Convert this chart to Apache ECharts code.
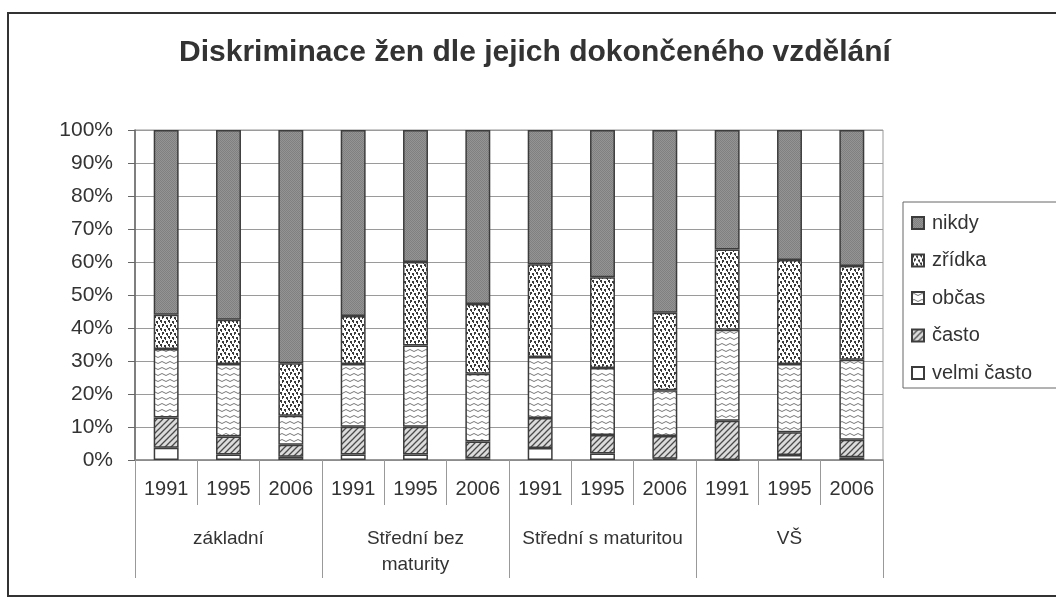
<!DOCTYPE html>
<html>
<head>
<meta charset="utf-8">
<script src="https://cdn.jsdelivr.net/npm/echarts@6/dist/echarts.min.js"></script>
<style>
  html, body { margin: 0; padding: 0; background: #fff; }
  #chart { width: 1056px; height: 599px; }
</style>
</head>
<body>
<div id="chart"></div>
<script>
// --- data ---
const years = ['1991', '1995', '2006', '1991', '1995', '2006', '1991', '1995', '2006', '1991', '1995', '2006'];
const groups = ['základní', 'Střední bez\nmaturity', 'Střední s maturitou', 'VŠ'];
const yTicks = [0, 10, 20, 30, 40, 50, 60, 70, 80, 90, 100];

const velmiCasto = [3.7, 1.7, 1.0, 1.7, 1.7, 0.5, 3.6, 2.0, 0.4, 0, 1.5, 0.8];
const casto = [9.2, 5.4, 3.6, 8.4, 8.4, 5.1, 9.1, 5.6, 6.9, 11.9, 6.9, 5.3];
const obcas = [20.7, 22.0, 8.8, 19.0, 24.6, 20.5, 18.5, 20.3, 13.8, 27.6, 20.7, 24.3];
const zridka = [10.4, 13.4, 15.9, 14.5, 25.3, 21.2, 28.1, 27.5, 23.5, 24.3, 31.5, 28.4];
const nikdy = [56.0, 57.5, 70.7, 56.4, 40.0, 52.7, 40.7, 44.6, 55.4, 36.2, 39.4, 41.2];

const TEXT = '#333';
const FONT = 'Liberation Sans, Arial, sans-serif';

// --- fill patterns (grayscale, like the scanned original) ---
function makePattern(w, h, draw) {
  const c = document.createElement('canvas');
  c.width = w; c.height = h;
  const ctx = c.getContext('2d');
  draw(ctx);
  return { image: c, repeat: 'repeat' };
}

const patNikdy = makePattern(2, 2, (ctx) => {
  ctx.fillStyle = '#949494'; ctx.fillRect(0, 0, 2, 2);
  ctx.fillStyle = '#808080'; ctx.fillRect(0, 0, 1, 1); ctx.fillRect(1, 1, 1, 1);
});

const patZridka = makePattern(8, 8, (ctx) => {
  ctx.fillStyle = '#fff'; ctx.fillRect(0, 0, 8, 8);
  ctx.fillStyle = '#3a3a3a';
  ctx.fillRect(0, 0, 2, 2); ctx.fillRect(1, 2, 1, 1);
  ctx.fillRect(4, 1, 2, 2); ctx.fillRect(5, 3, 1, 1);
  ctx.fillRect(2, 4, 2, 2); ctx.fillRect(2, 6, 1, 1);
  ctx.fillRect(6, 5, 2, 2); ctx.fillRect(7, 7, 1, 1);
});

const patObcas = makePattern(8, 6, (ctx) => {
  ctx.fillStyle = '#fff'; ctx.fillRect(0, 0, 8, 6);
  ctx.strokeStyle = '#777'; ctx.lineWidth = 1;
  ctx.beginPath();
  ctx.moveTo(0, 2.5); ctx.quadraticCurveTo(2, 0.5, 4, 2.5); ctx.quadraticCurveTo(6, 4.5, 8, 2.5);
  ctx.stroke();
});

const patCasto = makePattern(6, 6, (ctx) => {
  ctx.fillStyle = '#dcdcdc'; ctx.fillRect(0, 0, 6, 6);
  ctx.strokeStyle = '#4a4a4a'; ctx.lineWidth = 1.3;
  ctx.beginPath();
  ctx.moveTo(-1, 7); ctx.lineTo(7, -1);
  ctx.moveTo(-4, 4); ctx.lineTo(4, -4);
  ctx.moveTo(2, 10); ctx.lineTo(10, 2);
  ctx.stroke();
});

function barSeries(name, data, fill) {
  return {
    name: name,
    type: 'bar',
    stack: 'total',
    barWidth: '40%',
    data: data,
    itemStyle: { color: fill, borderColor: '#3c3c3c', borderWidth: 1.5 },
    emphasis: { disabled: true }
  };
}

const chart = echarts.init(document.getElementById('chart'));

chart.setOption({
  animation: false,
  backgroundColor: '#fff',
  title: {
    text: 'Diskriminace žen dle jejich dokončeného vzdělání',
    left: 530,
    textAlign: 'center',
    top: 33,
    textStyle: { color: TEXT, fontSize: 30, fontWeight: 'bold', fontFamily: FONT }
  },
  graphic: [
    {
      type: 'rect',
      shape: { x: 8, y: 13, width: 1070, height: 583 },
      style: { fill: 'none', stroke: '#333', lineWidth: 2 },
      silent: true
    }
  ],
  legend: {
    orient: 'vertical',
    left: 903,
    top: 202,
    padding: [11, 40, 5, 8],
    itemGap: 17.5,
    itemWidth: 12,
    itemHeight: 12,
    icon: 'rect',
    borderColor: '#666',
    borderWidth: 1,
    data: ['nikdy', 'zřídka', 'občas', 'často', 'velmi často'],
    textStyle: { color: TEXT, fontSize: 20, fontFamily: FONT, padding: [0, 0, 0, 3] },
    selectedMode: false
  },
  grid: {
    left: 135,
    right: 173,
    top: 130,
    bottom: 139,
    show: true,
    borderColor: '#999',
    borderWidth: 1
  },
  xAxis: [
    {
      type: 'category',
      data: years,
      position: 'bottom',
      axisLine: { show: true, lineStyle: { color: '#888', width: 1.5 } },
      axisTick: { show: true, interval: 0, length: 45, lineStyle: { color: '#999' } },
      axisLabel: { interval: 0, margin: 19, color: TEXT, fontSize: 20, fontFamily: FONT }
    },
    {
      type: 'category',
      data: groups,
      position: 'bottom',
      axisLine: { show: false },
      axisTick: { show: true, interval: 0, length: 118, lineStyle: { color: '#999' } },
      axisLabel: { interval: 0, margin: 66, color: TEXT, fontSize: 19, fontFamily: FONT, lineHeight: 26 }
    }
  ],
  yAxis: {
    type: 'value',
    min: yTicks[0],
    max: yTicks[yTicks.length - 1],
    interval: 10,
    axisLine: { show: true, lineStyle: { color: '#666', width: 1.5 } },
    axisTick: { show: true, length: 7, lineStyle: { color: '#666' } },
    axisLabel: { margin: 22, color: TEXT, fontSize: 21, fontFamily: FONT, formatter: '{value}%' },
    splitLine: { show: true, lineStyle: { color: '#9a9a9a', width: 1 } }
  },
  series: [
    barSeries('velmi často', velmiCasto, '#fff'),
    barSeries('často', casto, patCasto),
    barSeries('občas', obcas, patObcas),
    barSeries('zřídka', zridka, patZridka),
    barSeries('nikdy', nikdy, patNikdy)
  ]
});
</script>
</body>
</html>
